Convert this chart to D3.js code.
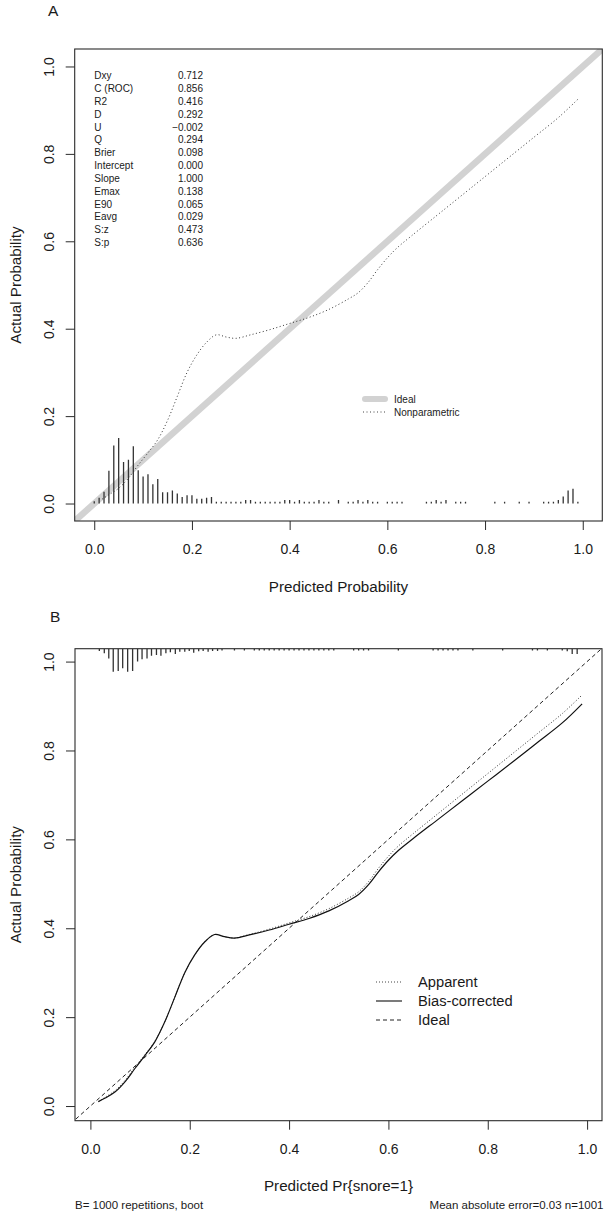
<!DOCTYPE html>
<html>
<head>
<meta charset="utf-8">
<script src="https://cdn.jsdelivr.net/npm/d3@7"></script>
<style>
  html, body { margin: 0; padding: 0; background: #fff; }
  svg { display: block; }
  text { font-family: "Liberation Sans", Arial, Helvetica, sans-serif; fill: #1a1a1a; }
</style>
</head>
<body>
<svg id="chart" width="604" height="1214"></svg>
<script>
// ---------------- DATA ----------------
const xTicks = [0, 0.2, 0.4, 0.6, 0.8, 1.0];
const yTicks = [0, 0.2, 0.4, 0.6, 0.8, 1.0];

const statLabels = ["Dxy","C (ROC)","R2","D","U","Q","Brier","Intercept","Slope","Emax","E90","Eavg","S:z","S:p"];
const statValues = ["0.712","0.856","0.416","0.292","\u22120.002","0.294","0.098","0.000","1.000","0.138","0.065","0.029","0.473","0.636"];

// calibration curve (predicted -> actual)
const curveX    = [0.016,0.03,0.05,0.07,0.09,0.11,0.13,0.15,0.17,0.19,0.21,0.23,0.25,0.27,0.29,0.32,0.36,0.40,0.44,0.48,0.52,0.54,0.56,0.58,0.60,0.62,0.65,0.70,0.75,0.80,0.85,0.90,0.95,0.99];
const apparentY = [0.010,0.020,0.035,0.058,0.088,0.116,0.146,0.190,0.245,0.300,0.340,0.369,0.386,0.381,0.378,0.386,0.398,0.412,0.426,0.444,0.468,0.482,0.505,0.535,0.562,0.585,0.613,0.658,0.703,0.748,0.793,0.838,0.883,0.925];
const biasCorrY = [0.010,0.018,0.032,0.055,0.085,0.114,0.145,0.190,0.245,0.300,0.340,0.369,0.386,0.381,0.378,0.385,0.396,0.409,0.422,0.439,0.462,0.476,0.498,0.527,0.553,0.575,0.602,0.645,0.688,0.731,0.774,0.818,0.862,0.905];

// distribution of predicted risks, panel A (spikes up from y = 0)
const histAX = [0.00,0.01,0.02,0.03,0.04,0.05,0.06,0.07,0.08,0.09,0.10,0.11,0.12,0.13,0.14,0.15,0.16,0.17,0.18,0.19,0.20,0.21,0.22,0.23,0.24,
  0.25,0.26,0.27,0.28,0.29,0.30,0.31,0.32,0.33,0.34,0.35,0.36,0.37,0.38,0.39,0.40,0.41,0.42,0.43,0.44,0.45,0.46,0.47,0.48,0.50,
  0.52,0.53,0.54,0.55,0.56,0.57,0.58,0.60,0.61,0.62,0.63,0.68,0.69,0.70,0.71,0.72,0.74,0.75,0.76,0.82,0.84,0.87,0.89,0.92,0.93,0.94,0.95,0.96,0.97,0.98,0.99];
const histAH = [0.005,0.013,0.027,0.075,0.133,0.150,0.095,0.100,0.131,0.076,0.062,0.067,0.044,0.056,0.026,0.026,0.030,0.023,0.015,0.019,0.019,0.011,0.011,0.013,0.015,
  0.004,0.004,0.004,0.004,0.004,0.004,0.008,0.008,0.004,0.004,0.004,0.004,0.004,0.004,0.008,0.008,0.004,0.008,0.004,0.004,0.004,0.008,0.004,0.004,0.008,
  0.004,0.004,0.008,0.004,0.008,0.004,0.004,0.004,0.004,0.004,0.004,0.004,0.004,0.008,0.004,0.008,0.004,0.004,0.004,0.004,0.004,0.004,0.004,0.004,0.004,0.004,0.008,0.016,0.030,0.034,0.004];

// distribution of predicted risks, panel B (spikes down from the top frame)
const histBX = [0.018,0.028,0.037,0.046,0.056,0.065,0.075,0.085,0.095,0.104,0.114,0.123,0.133,0.142,0.152,0.161,0.171,0.180,0.190,0.199,0.208,
  0.218,0.227,0.237,0.246,0.256,0.265,0.29,0.31,0.33,0.34,0.35,0.36,0.37,0.38,0.39,0.40,0.41,0.42,0.43,0.44,0.45,0.46,0.47,0.48,0.49,
  0.53,0.54,0.55,0.56,0.62,0.69,0.70,0.71,0.72,0.73,0.74,0.77,0.83,0.89,0.90,0.92,0.95,0.96,0.97,0.98];
const histBH = [0.005,0.010,0.022,0.052,0.050,0.044,0.052,0.050,0.029,0.024,0.022,0.016,0.014,0.016,0.010,0.008,0.012,0.007,0.007,0.005,0.009,
  0.006,0.005,0.007,0.005,0.005,0.004,0.004,0.004,0.004,0.004,0.004,0.004,0.004,0.004,0.004,0.004,0.004,0.004,0.004,0.004,0.004,0.004,0.004,0.004,0.004,
  0.004,0.004,0.004,0.004,0.004,0.004,0.004,0.004,0.004,0.004,0.004,0.004,0.004,0.004,0.004,0.004,0.004,0.006,0.012,0.012];

const legendA = ["Ideal", "Nonparametric"];
const legendB = ["Apparent", "Bias-corrected", "Ideal"];

// ---------------- DRAW ----------------
const svg = d3.select("#chart");
const INK = "#2b2b2b";
const fmt = d3.format(".1f");

function frame(x, y, id) {
  const [x0, x1] = x.range(), [y0, y1] = y.range();
  svg.append("clipPath").attr("id", id).append("rect")
    .attr("x", x0).attr("y", y1).attr("width", x1 - x0).attr("height", y0 - y1);
  return { x0, x1, top: y1, bottom: y0 };
}

function axes(x, y, b, xTitle) {
  const gx = svg.append("g").attr("transform", `translate(0,${b.bottom})`)
    .call(d3.axisBottom(x).tickValues(xTicks).tickSize(9).tickFormat(fmt));
  gx.select(".domain").remove();
  gx.selectAll(".tick line").attr("stroke", INK);
  gx.selectAll(".tick text").attr("y", 33).attr("dy", null)
    .style("font-size", "14px").attr("fill", "#1a1a1a");

  const gy = svg.append("g").attr("transform", `translate(${b.x0},0)`)
    .call(d3.axisLeft(y).tickValues(yTicks).tickSize(9).tickFormat(fmt));
  gy.select(".domain").remove();
  gy.selectAll(".tick line").attr("stroke", INK);
  gy.selectAll(".tick text").attr("x", null).attr("dy", null)
    .attr("transform", `translate(${54 - b.x0},0) rotate(-90)`)
    .attr("text-anchor", "middle")
    .style("font-size", "14px").attr("fill", "#1a1a1a");

  svg.append("rect").attr("x", b.x0).attr("y", b.top)
    .attr("width", b.x1 - b.x0).attr("height", b.bottom - b.top)
    .attr("fill", "none").attr("stroke", INK).attr("stroke-width", 1.1);

  svg.append("text").attr("x", (b.x0 + b.x1) / 2).attr("y", b.bottom + 70.5)
    .attr("text-anchor", "middle").style("font-size", "15.2px").text(xTitle);
  const cy = (b.top + b.bottom) / 2;
  svg.append("text").attr("transform", `translate(21,${cy}) rotate(-90)`)
    .attr("text-anchor", "middle").style("font-size", "15.2px").text("Actual Probability");
}

// ===== Panel A =====
const xA = d3.scaleLinear().domain([-0.04, 1.04]).range([74.7, 602.3]);
const yA = d3.scaleLinear().domain([-0.04, 1.04]).range([521, 49]);
const bA = frame(xA, yA, "clipA");

svg.append("text").attr("x", 48).attr("y", 15.5).style("font-size", "15.5px").text("A");

const gA = svg.append("g").attr("clip-path", "url(#clipA)");
gA.append("line")
  .attr("x1", xA(-0.04)).attr("y1", yA(-0.04)).attr("x2", xA(1.04)).attr("y2", yA(1.04))
  .attr("stroke", "#d2d2d2").attr("stroke-width", 6.5);
gA.selectAll("line.hA").data(histAX).join("line").attr("class", "hA")
  .attr("x1", d => xA(d)).attr("x2", d => xA(d))
  .attr("y1", yA(0)).attr("y2", (d, i) => yA(histAH[i]))
  .attr("stroke", "#333").attr("stroke-width", 1.3);
const lineA = d3.line().x((d, i) => xA(curveX[i])).y(d => yA(d)).curve(d3.curveCatmullRom.alpha(0.5));
gA.append("path").datum(apparentY).attr("d", lineA)
  .attr("fill", "none").attr("stroke", "#333").attr("stroke-width", 1)
  .attr("stroke-dasharray", "1,2.5");

axes(xA, yA, bA, "Predicted Probability");

const statG = svg.append("g").style("font-size", "10px");
statLabels.forEach((s, i) => {
  const y = 75.5 + i * 12.85 + 3.6;
  statG.append("text").attr("x", 94.3).attr("y", y).text(s);
  statG.append("text").attr("x", 203).attr("y", y).attr("text-anchor", "end").text(statValues[i]);
});

const legA = svg.append("g").style("font-size", "10px");
legendA.forEach((s, i) => {
  const y = 399 + i * 13;
  const ln = legA.append("line").attr("x1", 363).attr("x2", 387).attr("y1", y).attr("y2", y);
  if (i === 0) ln.attr("stroke", "#d2d2d2").attr("stroke-width", 6).attr("stroke-linecap", "round").attr("x1", 365).attr("x2", 385);
  else ln.attr("stroke", "#444").attr("stroke-width", 1).attr("stroke-dasharray", "1,2.5");
  legA.append("text").attr("x", 394).attr("y", y + 3.6).text(s);
});

// ===== Panel B =====
const xB = d3.scaleLinear().domain([-0.031, 1.03]).range([75, 602]);
const yB = d3.scaleLinear().domain([-0.033, 1.029]).range([1120.7, 648.7]);
const bB = frame(xB, yB, "clipB");

svg.append("text").attr("x", 50).attr("y", 622).style("font-size", "15.5px").text("B");

const gB = svg.append("g").attr("clip-path", "url(#clipB)");
const topB = yB.domain()[1];
gB.selectAll("line.hB").data(histBX).join("line").attr("class", "hB")
  .attr("x1", d => xB(d)).attr("x2", d => xB(d))
  .attr("y1", yB(topB)).attr("y2", (d, i) => yB(topB - histBH[i]))
  .attr("stroke", "#333").attr("stroke-width", 1.3);
gB.append("line")
  .attr("x1", xB(-0.04)).attr("y1", yB(-0.04)).attr("x2", xB(1.04)).attr("y2", yB(1.04))
  .attr("stroke", "#222").attr("stroke-width", 1).attr("stroke-dasharray", "4,3");
const lineB = d3.line().x((d, i) => xB(curveX[i])).y(d => yB(d)).curve(d3.curveCatmullRom.alpha(0.5));
gB.append("path").datum(apparentY).attr("d", lineB)
  .attr("fill", "none").attr("stroke", "#333").attr("stroke-width", 1)
  .attr("stroke-dasharray", "1,2");
gB.append("path").datum(biasCorrY).attr("d", lineB)
  .attr("fill", "none").attr("stroke", "#111").attr("stroke-width", 1.2);

axes(xB, yB, bB, "Predicted Pr{snore=1}");

const legB = svg.append("g").style("font-size", "14.7px");
legendB.forEach((s, i) => {
  const y = 982 + i * 19;
  const ln = legB.append("line").attr("x1", 376).attr("x2", 402).attr("y1", y).attr("y2", y).attr("stroke", "#222");
  if (i === 0) ln.attr("stroke-dasharray", "1,2").attr("stroke", "#444");
  else if (i === 1) ln.attr("stroke-width", 1.2);
  else ln.attr("stroke-dasharray", "4,3");
  legB.append("text").attr("x", 418).attr("y", y + 5.2).text(s);
});

svg.append("text").attr("x", 75).attr("y", 1209).style("font-size", "11.5px").text("B= 1000 repetitions, boot");
svg.append("text").attr("x", 603.5).attr("y", 1209).attr("text-anchor", "end").style("font-size", "11.5px")
  .text("Mean absolute error=0.03 n=1001");
</script>
</body>
</html>
